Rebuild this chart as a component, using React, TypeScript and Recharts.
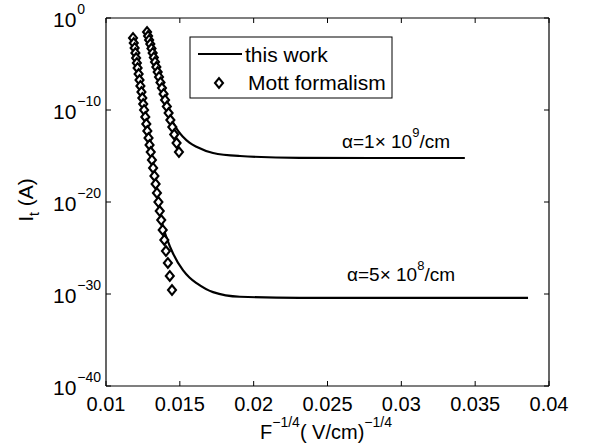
import { ComposedChart, Line, Scatter, XAxis, YAxis } from "recharts";

const FONT = '"Liberation Sans", Arial, Helvetica, sans-serif';

// x = F^-1/4 (V/cm)^-1/4, curve values stored as log10 of I_t (A)
const mottA_x = [
  0.01183, 0.01188, 0.01194, 0.01199, 0.01204, 0.01209, 0.01214, 0.01221, 0.01227,
  0.01233, 0.0124, 0.01246, 0.01252, 0.01258, 0.01266, 0.01273, 0.0128, 0.01288,
  0.01295, 0.01303, 0.01311, 0.01319, 0.01328, 0.01336, 0.01345, 0.01355, 0.01364,
  0.01374, 0.01384, 0.01395, 0.01406, 0.01419, 0.01432, 0.01447,
];
const mottA_log = [
  -2.17, -2.72, -3.26, -3.8, -4.35, -4.89, -5.43, -6.09, -6.74, -7.39, -8.04, -8.7,
  -9.35, -10.0, -10.76, -11.52, -12.28, -13.04, -13.8, -14.57, -15.43, -16.3, -17.17,
  -18.04, -19.02, -20.0, -20.98, -21.96, -23.04, -24.13, -25.33, -26.63, -28.04, -29.57,
];

const mottB_x = [
  0.01278, 0.01285, 0.01292, 0.013, 0.01308, 0.01316, 0.01324, 0.01332, 0.01341,
  0.0135, 0.01359, 0.01369, 0.01379, 0.0139, 0.014, 0.01412, 0.01424, 0.01436,
  0.01449, 0.01462, 0.01478, 0.01494,
];
const mottB_log = [
  -1.52, -1.96, -2.39, -2.83, -3.32, -3.8, -4.29, -4.78, -5.33, -5.87, -6.41, -7.01,
  -7.61, -8.26, -8.91, -9.62, -10.33, -11.09, -11.85, -12.66, -13.59, -14.57,
];

// this work, alpha = 1e9 /cm
const work1_x = [
  0.01278, 0.01332, 0.0139, 0.01421, 0.01454, 0.01487, 0.01521, 0.01565, 0.01616,
  0.01725, 0.01907, 0.0231, 0.028, 0.0343,
];
const work1_log = [
  -1.52, -4.78, -8.26, -10.0, -11.35, -12.25, -12.9, -13.55, -14.02, -14.67, -15.0,
  -15.2, -15.22, -15.22,
];

// this work, alpha = 5e8 /cm
const work2_x = [
  0.01183, 0.01258, 0.01303, 0.01345, 0.01364, 0.0138, 0.01413, 0.01454, 0.01521,
  0.01565, 0.01616, 0.01725, 0.01907, 0.0231, 0.03, 0.03858,
];
const work2_log = [
  -2.17, -10.0, -14.57, -19.02, -20.9, -22.3, -24.0, -25.6, -27.4, -28.2, -28.85,
  -29.8, -30.3, -30.42, -30.43, -30.43,
];

const xTicks = [0.01, 0.015, 0.02, 0.025, 0.03, 0.035, 0.04];
const xTickLabels = ["0.01", "0.015", "0.02", "0.025", "0.03", "0.035", "0.04"];
const yTickExps = [0, -10, -20, -30, -40];
const yTicks = yTickExps.map((e) => Math.pow(10, e));

const toPoints = (xs: number[], logs: number[]) =>
  xs.map((x, i) => ({ x, y: Math.pow(10, logs[i]) }));

const mottA = toPoints(mottA_x, mottA_log);
const mottB = toPoints(mottB_x, mottB_log);
const work1 = toPoints(work1_x, work1_log);
const work2 = toPoints(work2_x, work2_log);

const PLOT_TOP = 18;
const PLOT_BOTTOM = 386;
const PLOT_LEFT = 106;
const PLOT_RIGHT = 549;

const Diamond = ({ cx, cy }: any) => (
  <path
    d={`M${cx},${cy - 4.8} L${cx + 4},${cy} L${cx},${cy + 4.8} L${cx - 4},${cy} Z`}
    fill="#fff"
    stroke="#000"
    strokeWidth={2.1}
  />
);

const BottomTick = ({ x, payload }: any) => {
  const i = xTicks.indexOf(payload.value);
  return (
    <g>
      <line x1={x} x2={x} y1={PLOT_BOTTOM} y2={PLOT_BOTTOM - 5} stroke="#000" />
      <text x={x} y={411} textAnchor="middle" fontSize={20} fontFamily={FONT} fill="#000">
        {i >= 0 ? xTickLabels[i] : payload.value}
      </text>
    </g>
  );
};

const TopTick = ({ x }: any) => (
  <line x1={x} x2={x} y1={PLOT_TOP} y2={PLOT_TOP + 5} stroke="#000" />
);

const LeftTick = ({ y, payload }: any) => {
  const exp = Math.round(Math.log10(payload.value));
  return (
    <g>
      <line x1={PLOT_LEFT} x2={PLOT_LEFT + 5} y1={y} y2={y} stroke="#000" />
      <text x={53} y={y + 8.5} fontSize={21} fontFamily={FONT} fill="#000">
        10
        <tspan dx={1} dy={-13} fontSize={14}>
          {exp === 0 ? "0" : "\u2212" + Math.abs(exp)}
        </tspan>
      </text>
    </g>
  );
};

const RightTick = ({ y }: any) => (
  <line x1={PLOT_RIGHT} x2={PLOT_RIGHT - 5} y1={y} y2={y} stroke="#000" />
);

const Overlay = () => (
  <svg
    width={602}
    height={446}
    style={{ position: "absolute", left: 0, top: 0, pointerEvents: "none" }}
    fontFamily={FONT}
  >
    {/* legend */}
    <rect x={190} y={37} width={202} height={61} fill="#fff" stroke="#000" strokeWidth={1} />
    <line x1={198} x2={242} y1={54} y2={54} stroke="#000" strokeWidth={2.2} />
    <text x={245} y={62} fontSize={21}>this work</text>
    <Diamond cx={219} cy={83} />
    <text x={248} y={90} fontSize={21}>Mott formalism</text>

    {/* curve annotations */}
    <text x={342} y={148} fontSize={19}>
      {"\u03b1=1\u00d7 10"}
      <tspan dy={-11} fontSize={13}>9</tspan>
      <tspan dy={11}>/cm</tspan>
    </text>
    <text x={347} y={281} fontSize={19}>
      {"\u03b1=5\u00d7 10"}
      <tspan dy={-11} fontSize={13}>8</tspan>
      <tspan dy={11}>/cm</tspan>
    </text>

    {/* axis labels */}
    <text x={326} y={439} fontSize={20} textAnchor="middle">
      F
      <tspan dy={-12} fontSize={14}>{"\u22121/4"}</tspan>
      <tspan dy={12}>( V/cm)</tspan>
      <tspan dy={-12} fontSize={14}>{"\u22121/4"}</tspan>
    </text>
    <text x={33} y={200} fontSize={21} textAnchor="middle" transform="rotate(-90 33 200)">
      I
      <tspan dy={6} fontSize={14}>t</tspan>
      <tspan dy={-6}> (A)</tspan>
    </text>
  </svg>
);

export default function App() {
  return (
    <div style={{ position: "absolute", left: 0, top: 0, width: 602, height: 446, background: "#fff" }}>
      <ComposedChart
        width={602}
        height={446}
        margin={{ top: 0, right: 0, bottom: 0, left: 0 }}
      >
        <XAxis
          dataKey="x"
          type="number"
          domain={[0.01, 0.04]}
          ticks={xTicks}
          allowDataOverflow
          height={446 - PLOT_BOTTOM}
          axisLine={{ stroke: "#000", strokeWidth: 1.2 }}
          tickLine={false}
          tick={<BottomTick />}
          interval={0}
        />
        <XAxis
          xAxisId="top"
          orientation="top"
          dataKey="x"
          type="number"
          domain={[0.01, 0.04]}
          ticks={xTicks}
          allowDataOverflow
          height={PLOT_TOP}
          axisLine={{ stroke: "#000", strokeWidth: 1.2 }}
          tickLine={false}
          tick={<TopTick />}
          interval={0}
        />
        <YAxis
          dataKey="y"
          type="number"
          scale="log"
          domain={[1e-40, 1]}
          ticks={yTicks}
          allowDataOverflow
          width={PLOT_LEFT}
          axisLine={{ stroke: "#000", strokeWidth: 1.2 }}
          tickLine={false}
          tick={<LeftTick />}
          interval={0}
        />
        <YAxis
          yAxisId="right"
          orientation="right"
          dataKey="y"
          type="number"
          scale="log"
          domain={[1e-40, 1]}
          ticks={yTicks}
          allowDataOverflow
          width={602 - PLOT_RIGHT}
          axisLine={{ stroke: "#000", strokeWidth: 1.2 }}
          tickLine={false}
          tick={<RightTick />}
          interval={0}
        />
        <Line
          data={work1}
          dataKey="y"
          type="monotone"
          stroke="#000"
          strokeWidth={2.2}
          dot={false}
          isAnimationActive={false}
        />
        <Line
          data={work2}
          dataKey="y"
          type="monotone"
          stroke="#000"
          strokeWidth={2.2}
          dot={false}
          isAnimationActive={false}
        />
        <Scatter data={mottA} dataKey="y" shape={<Diamond />} isAnimationActive={false} />
        <Scatter data={mottB} dataKey="y" shape={<Diamond />} isAnimationActive={false} />
      </ComposedChart>
      <Overlay />
    </div>
  );
}
